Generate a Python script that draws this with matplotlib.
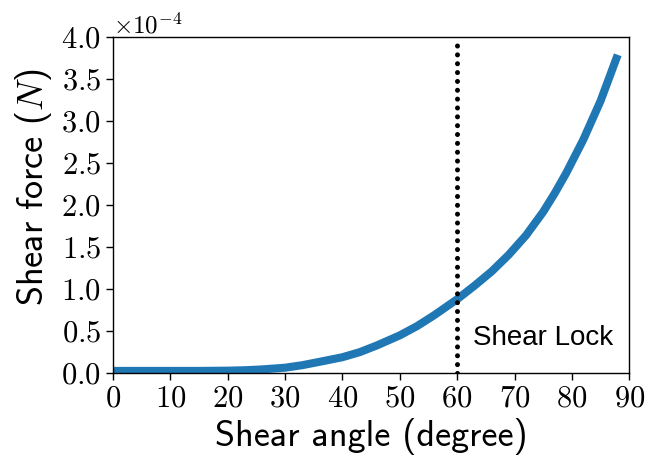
import numpy as np
import matplotlib
matplotlib.use("Agg")
import matplotlib.pyplot as plt
from matplotlib.ticker import ScalarFormatter

plt.rcParams['mathtext.fontset'] = 'cm'
plt.rcParams['font.family'] = 'serif'
plt.rcParams['font.serif'] = ['cmr10']
plt.rcParams['axes.formatter.use_mathtext'] = True

# shear angle (degree) vs shear force (x1e-4 N)
angle = [0, 5, 10, 15, 20, 23, 26, 30, 33, 36, 40, 43, 46, 50, 53, 56, 60,
         63, 66, 69, 72, 75, 77, 79, 82, 85, 88]
force = [0.027, 0.027, 0.027, 0.027, 0.03, 0.035, 0.045, 0.065, 0.095, 0.135,
         0.19, 0.25, 0.33, 0.45, 0.56, 0.69, 0.88, 1.04, 1.21, 1.41, 1.64,
         1.92, 2.14, 2.38, 2.78, 3.24, 3.79]
lock_angle = 60
xticks = [0, 10, 20, 30, 40, 50, 60, 70, 80, 90]
yticks = [0, 0.5, 1.0, 1.5, 2.0, 2.5, 3.0, 3.5, 4.0]

force = np.array(force) * 1e-4

fig = plt.figure(figsize=(6.46, 4.59), dpi=100)
ax = fig.add_axes([0.175, 0.187, 0.799, 0.732])

ax.plot(angle, force, color='#1f77b4', lw=5.8, solid_capstyle='butt',
        solid_joinstyle='round')
ax.axvline(lock_angle, color='black', lw=3.6, linestyle=(0, (0.01, 1.76)),
           dash_capstyle='round')
ax.text(62.8, 0.33e-4, 'Shear Lock', family='Liberation Sans', fontsize=20,
        va='baseline')

ax.set_xlim(0, 90)
ax.set_ylim(0, 4e-4)
ax.set_xticks(xticks)
ax.set_yticks([v * 1e-4 for v in yticks])
fmt = ScalarFormatter(useMathText=True)
fmt.set_powerlimits((-4, -4))
ax.yaxis.set_major_formatter(fmt)
ax.tick_params(labelsize=22, length=5, width=1, direction='out')
ax.yaxis.get_offset_text().set_fontsize(18)

ax.set_xlabel('Shear angle (degree)', family='cmss10', fontsize=26)
ax.set_ylabel('Shear force ($N$)', family='cmss10', fontsize=26)
ax.yaxis.set_label_coords(-0.115, 0.554)

for s in ax.spines.values():
    s.set_linewidth(1.0)

fig.savefig('out.png', dpi=100)
